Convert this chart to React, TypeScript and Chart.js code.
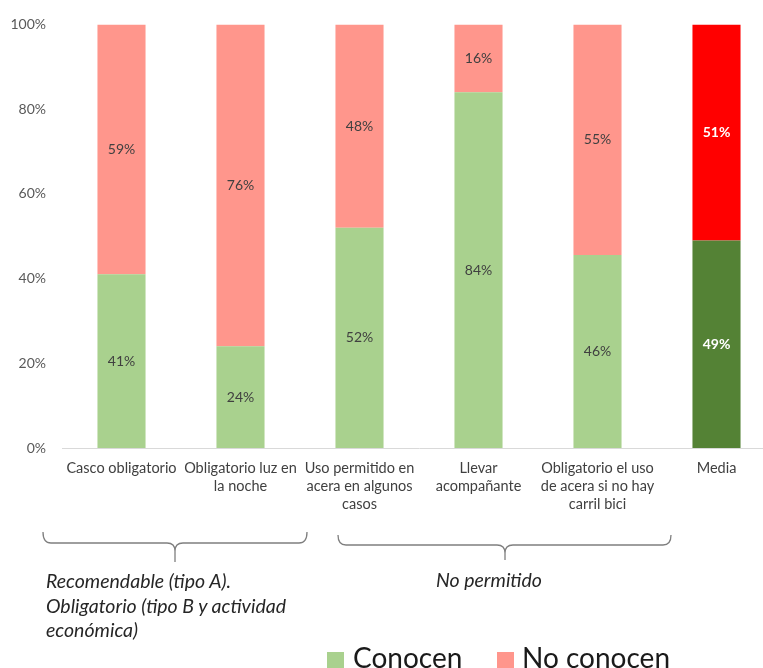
import React, { useEffect, useRef } from "react";
import { Chart, registerables } from "chart.js";

Chart.register(...registerables);

const categories: string[][] = [
  ["Casco obligatorio"],
  ["Obligatorio luz en", "la noche"],
  ["Uso permitido en", "acera en algunos", "casos"],
  ["Llevar", "acompañante"],
  ["Obligatorio el uso", "de acera si no hay", "carril bici"],
  ["Media"],
];
const seriesNames = ["Conocen", "No conocen"];
const conocen = [41, 24, 52, 84, 46, 49];
const noConocen = [59, 76, 48, 16, 55, 51];
const yTicks = [0, 20, 40, 60, 80, 100];
const groupNotes = [
  ["Recomendable (tipo A).", "Obligatorio (tipo B y actividad", "económica)"],
  ["No permitido"],
];

const GREEN = "#a9d18e";
const SALMON = "#ff968c";
const DARK_GREEN = "#548235";
const RED = "#ff0000";
const FONT = "Lato, 'Open Sans', sans-serif";

export default function App() {
  const ref = useRef<HTMLCanvasElement | null>(null);

  useEffect(() => {
    if (!ref.current) return;
    const totals = conocen.map((v, i) => v + noConocen[i]);
    const share = (arr: number[]) => arr.map((v, i) => (v / totals[i]) * 100);
    const last = categories.length - 1;

    const labelPlugin = {
      id: "barLabels",
      afterDatasetsDraw(chart: any) {
        const ctx = chart.ctx;
        const raw = [conocen, noConocen];
        chart.data.datasets.forEach((_ds: any, di: number) => {
          const meta = chart.getDatasetMeta(di);
          meta.data.forEach((el: any, i: number) => {
            const isMedia = i === last;
            ctx.save();
            ctx.font = `${isMedia ? "bold " : ""}14px ${FONT}`;
            ctx.fillStyle = isMedia ? "#ffffff" : "#404040";
            ctx.textAlign = "center";
            ctx.textBaseline = "middle";
            ctx.fillText(raw[di][i] + "%", el.x, (el.y + el.base) / 2);
            ctx.restore();
          });
        });
      },
    };

    const bracePlugin = {
      id: "braces",
      afterDraw(chart: any) {
        const ctx = chart.ctx;
        const brace = (x1: number, x2: number, cx: number, yEnd: number, yLine: number, yTip: number) => {
          const r = 8;
          ctx.beginPath();
          ctx.moveTo(x1, yEnd);
          ctx.quadraticCurveTo(x1, yLine, x1 + r, yLine);
          ctx.lineTo(cx - r, yLine);
          ctx.quadraticCurveTo(cx, yLine, cx, yLine + r);
          ctx.lineTo(cx, yTip);
          ctx.moveTo(cx, yLine + r);
          ctx.quadraticCurveTo(cx, yLine, cx + r, yLine);
          ctx.lineTo(x2 - r, yLine);
          ctx.quadraticCurveTo(x2, yLine, x2, yEnd);
          ctx.stroke();
        };
        ctx.save();
        ctx.strokeStyle = "#7f7f7f";
        ctx.lineWidth = 1.3;
        brace(43, 307, 175, 532, 543, 562);
        brace(338, 671, 505, 535, 545, 560);
        ctx.restore();
      },
    };

    const chart = new Chart(ref.current, {
      type: "bar",
      data: {
        labels: categories,
        datasets: [
          {
            label: seriesNames[0],
            data: share(conocen),
            backgroundColor: conocen.map((_, i) => (i === last ? DARK_GREEN : GREEN)),
            barPercentage: 0.404,
            categoryPercentage: 1,
          },
          {
            label: seriesNames[1],
            data: share(noConocen),
            backgroundColor: noConocen.map((_, i) => (i === last ? RED : SALMON)),
            barPercentage: 0.404,
            categoryPercentage: 1,
          },
        ],
      },
      options: {
        animation: false,
        responsive: false,
        events: [],
        layout: { padding: { top: 24, left: 0, right: 0, bottom: 0 } },
        plugins: {
          legend: { display: false },
          tooltip: { enabled: false },
        },
        scales: {
          x: {
            stacked: true,
            grid: { display: false, drawTicks: false },
            border: { display: true, color: "#d9d9d9", width: 1 },
            ticks: {
              autoSkip: false,
              maxRotation: 0,
              minRotation: 0,
              padding: 11,
              color: "#404040",
              font: { family: FONT, size: 14.5, lineHeight: "18px" },
            },
            afterFit: (s: any) => {
              s.height = 668 - 448;
            },
          },
          y: {
            stacked: true,
            min: 0,
            max: 100,
            afterBuildTicks: (s: any) => {
              s.ticks = yTicks.map((v) => ({ value: v }));
            },
            grid: { display: false, drawTicks: false },
            border: { display: false },
            ticks: {
              padding: 16,
              color: "#595959",
              font: { family: FONT, size: 14 },
              callback: (v: any) => v + "%",
            },
            afterFit: (s: any) => {
              s.width = 62;
            },
          },
        },
      },
      plugins: [labelPlugin, bracePlugin],
    });
    return () => chart.destroy();
  }, []);

  const noteStyle: React.CSSProperties = {
    position: "absolute",
    fontFamily: FONT,
    fontStyle: "italic",
    fontSize: 19.5,
    lineHeight: "24.5px",
    color: "#262626",
    whiteSpace: "nowrap",
    margin: 0,
  };
  const legendText: React.CSSProperties = {
    position: "absolute",
    fontFamily: FONT,
    fontSize: 28,
    lineHeight: "28px",
    color: "#1a1a1a",
    whiteSpace: "nowrap",
  };
  const sq = (color: string, left: number): React.CSSProperties => ({
    position: "absolute",
    left,
    top: 652,
    width: 17,
    height: 17,
    background: color,
  });

  return (
    <div
      style={{
        position: "fixed",
        left: 0,
        top: 0,
        width: 763,
        height: 668,
        overflow: "hidden",
        background: "#ffffff",
      }}
    >
      <canvas ref={ref} width={776} height={668} style={{ position: "absolute", left: 0, top: 0, width: 776, height: 668 }} />
      <div style={{ ...noteStyle, left: 46, top: 569 }}>
        {groupNotes[0].map((l, i) => (
          <div key={i}>{l}</div>
        ))}
      </div>
      <div style={{ ...noteStyle, left: 436, top: 568 }}>
        {groupNotes[1].map((l, i) => (
          <div key={i}>{l}</div>
        ))}
      </div>
      <div style={sq(GREEN, 327)} />
      <div style={{ ...legendText, left: 353, top: 643 }}>{seriesNames[0]}</div>
      <div style={sq(SALMON, 497)} />
      <div style={{ ...legendText, left: 522, top: 643 }}>{seriesNames[1]}</div>
    </div>
  );
}
